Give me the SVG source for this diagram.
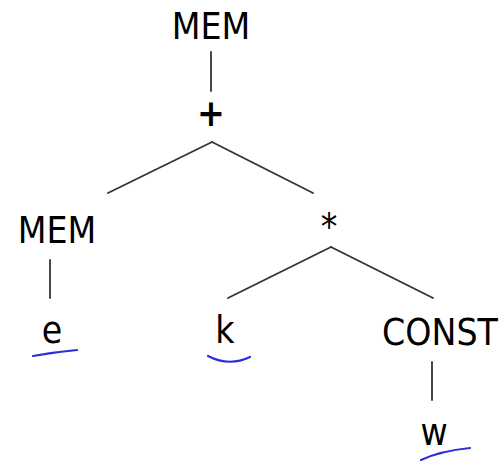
<svg xmlns="http://www.w3.org/2000/svg" width="502" height="462" viewBox="0 0 502 462">
<style>
.t{font-family:"DejaVu Sans Condensed","DejaVu Sans","Liberation Sans",sans-serif;font-size:37px;fill:#000;text-anchor:middle}
.c line{stroke:#333;stroke-width:1.8;stroke-linecap:round}
.u{fill:none;stroke:#2d2ed8;stroke-width:2.2;stroke-linecap:round}
</style>
<rect width="502" height="462" fill="#fff"/>
<g class="c" id="connectors">
<line x1="211" y1="52" x2="211" y2="91"/>
<line x1="212" y1="142" x2="108" y2="193"/>
<line x1="212" y1="142" x2="313" y2="193"/>
<line x1="331" y1="247" x2="228" y2="298"/>
<line x1="331" y1="247" x2="433" y2="298"/>
<line x1="50" y1="260" x2="50" y2="298"/>
<line x1="432" y1="362" x2="432" y2="400"/>
</g>
<g id="mem-top"><text class="t" x="211" y="39">MEM</text></g>
<g id="plus"><text class="t" x="211" y="126" font-weight="bold">+</text></g>
<g id="mem-left"><text class="t" x="57" y="243">MEM</text></g>
<g id="times"><text class="t" x="329" y="240" font-size="30">*</text></g>
<g id="e"><text class="t" x="52" y="343">e</text><path class="u" d="M33 356 Q55 352 77 350"/></g>
<g id="k"><text class="t" x="225" y="343">k</text><path class="u" d="M208 356 Q229 367 250 357"/></g>
<g id="const"><text class="t" x="440" y="345">CONST</text></g>
<g id="w"><text class="t" x="434" y="445">w</text><path class="u" d="M421 460 Q440 451 470 448"/></g>
</svg>
